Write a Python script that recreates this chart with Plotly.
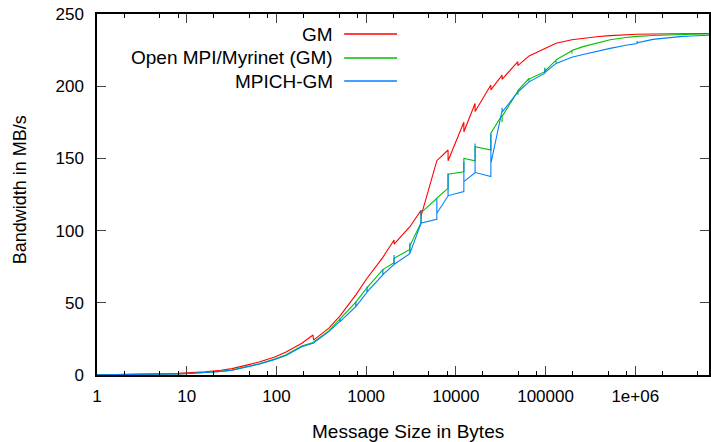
import plotly.graph_objects as go

# ---- data (message size in bytes, bandwidth in MB/s) ----
gm_sizes = [1, 2, 3, 4, 6, 8, 12, 16, 24, 32, 48, 64, 96, 128, 192, 256, 259, 384, 512, 768,
            1024, 1536, 2048, 2051, 3072, 4096, 4099, 6144, 8192, 8195, 12288, 12291,
            16384, 16387, 24576, 24579, 32768, 32771, 49152, 49155, 65536, 98304, 131072,
            196608, 262144, 393216, 524288, 786432, 1048576, 1572864, 2097152, 3145728,
            4194304, 6291456, 8388608]
gm_bw = [0.14, 0.28, 0.42, 0.56, 0.84, 1.1, 1.7, 2.2, 3.3, 4.4, 7.0, 9.0, 12.5, 16.0, 22.0,
         27.7, 24.2, 32.5, 41.0, 55.5, 67.0, 81.5, 93.5, 90.7, 102.7, 114.0, 110.2, 148.4,
         155.8, 148.4, 175.0, 168.5, 188.0, 182.5, 200.8, 197.4, 207.7, 204.8, 217.0, 214.2,
         221.0, 226.3, 229.8, 232.2, 233.2, 234.4, 235.0, 235.7, 236.0, 236.2, 236.3, 236.4,
         236.5, 236.6, 236.6]

ompi_sizes = [1, 2, 3, 4, 6, 8, 12, 16, 24, 32, 48, 64, 96, 128, 192, 256, 384, 512, 768,
              1024, 1536, 2045, 2048, 3069, 3072, 4093, 4096, 6141, 6144, 8189, 8192,
              12285, 12288, 16381, 16384, 24573, 24576, 32765, 32768, 32771, 49149, 49152,
              49155, 65533, 65536, 65539, 98301, 98304, 98307, 131069, 131072, 131075,
              196605, 196608, 196611, 262144, 393216, 524288, 786432, 1048576, 1572864,
              2097152, 3145728, 4194304, 6291456, 8388608]
ompi_bw = [0.1, 0.2, 0.3, 0.4, 0.6, 0.8, 1.2, 1.6, 2.5, 3.4, 5.8, 7.8, 11.0, 14.0, 20.0,
           22.5, 30.5, 38.5, 50.5, 60.5, 73.0, 77.8, 80.8, 87.0, 89.5, 105.5, 112.4, 122.3,
           122.5, 129.3, 139.0, 140.8, 150.0, 148.4, 158.1, 155.8, 167.4, 180.0, 175.0,
           179.0, 196.5, 194.0, 197.0, 205.5, 203.0, 205.0, 210.0, 213.0, 210.5, 218.0,
           216.0, 218.3, 224.6, 222.7, 224.8, 227.4, 230.2, 232.2, 233.7, 234.5, 235.1,
           235.5, 235.8, 236.0, 236.1, 236.2]

mpich_sizes = [1, 2, 3, 4, 6, 8, 12, 16, 24, 32, 48, 64, 96, 128, 192, 256, 384,
               509, 512, 515, 765, 768, 771, 1021, 1024, 1027, 1533, 1536, 1539,
               2045, 2048, 2051, 3069, 3072, 3075, 4093, 4096, 4099, 6141, 6144, 6147,
               8189, 8192, 8195, 12285, 12288, 12291, 16381, 16384, 16387,
               24573, 24576, 24579, 32765, 32768, 32771, 49152, 65536,
               98301, 98304, 98307, 131072, 196608, 262144, 393216, 524288, 786432,
               1048573, 1048576, 1048579, 1572864, 2097152, 3145728, 4194304, 6291456,
               8388608]
mpich_bw = [0.1, 0.2, 0.3, 0.4, 0.6, 0.8, 1.2, 1.6, 2.5, 3.3, 5.5, 7.5, 10.8, 13.5, 19.5,
            22.0, 30.0, 37.0, 39.2, 37.2, 47.3, 50.8, 47.5, 57.3, 61.2, 57.5, 69.3, 73.4,
            69.5, 76.5, 83.1, 76.7, 84.0, 91.6, 84.2, 105.0, 114.3, 105.2, 107.8, 122.3,
            112.0, 124.0, 139.5, 124.2, 127.0, 147.7, 133.9, 140.1, 160.4, 140.3, 137.5,
            167.0, 146.6, 183.0, 185.0, 182.0, 196.0, 203.0, 209.0, 212.0, 209.5, 215.8,
            220.0, 222.0, 224.6, 226.2, 228.3, 229.5, 231.3, 230.0, 232.4, 233.4, 234.3,
            234.8, 235.3, 235.5]

series_names = ["GM", "Open MPI/Myrinet (GM)", "MPICH-GM"]
series_colors = ["#ff0000", "#00c000", "#0080ff"]

x_tickvals = [1, 10, 100, 1000, 10000, 100000, 1000000]
x_ticktext = ["1", "10", "100", "1000", "10000", "100000", "1e+06"]
minor_mult = [2, 5, 8]
y_tickvals = [0, 50, 100, 150, 200, 250]

FONT = "Liberation Sans, Arial, Helvetica, sans-serif"

fig = go.Figure()
for xs, ys, name, col in [(gm_sizes, gm_bw, series_names[0], series_colors[0]),
                          (ompi_sizes, ompi_bw, series_names[1], series_colors[1]),
                          (mpich_sizes, mpich_bw, series_names[2], series_colors[2])]:
    fig.add_trace(go.Scatter(x=xs, y=ys, mode="lines", name=name,
                             line=dict(color=col, width=1.1), showlegend=False))

minor_vals = [m * 10 ** k for k in range(0, 7) for m in minor_mult]

fig.update_layout(
    width=711, height=442,
    margin=dict(l=97, r=0, t=14, b=67),
    paper_bgcolor="white", plot_bgcolor="white",
    font=dict(family=FONT, size=17, color="black"),
    xaxis=dict(type="log", range=[0, 6.822], showgrid=False, zeroline=False,
               showline=True, linecolor="black", linewidth=1.5, mirror="ticks",
               ticks="inside", ticklen=9, tickwidth=1, tickcolor="#444",
               tickvals=x_tickvals, ticktext=x_ticktext, ticklabelstandoff=5,
               minor=dict(tickvals=minor_vals, ticks="inside", ticklen=4,
                          tickcolor="black", tickwidth=1, showgrid=False)),
    yaxis=dict(range=[0, 250], showgrid=False, zeroline=False,
               showline=True, linecolor="black", linewidth=1.5, mirror="ticks",
               ticks="inside", ticklen=9, tickwidth=1, tickcolor="#444",
               tickvals=y_tickvals, ticklabelstandoff=8),
)

# axis titles
fig.add_annotation(text="Message Size in Bytes", xref="paper", yref="paper",
                   x=(409 - 97) / 614, y=(375 - 431) / 361, xanchor="center",
                   yanchor="middle", showarrow=False, font=dict(size=19))
fig.add_annotation(text="Bandwidth in MB/s", xref="paper", yref="paper",
                   x=(20 - 97) / 614, y=(375 - 190) / 361, textangle=-90, xanchor="center",
                   yanchor="middle", showarrow=False, font=dict(size=18))

# legend (text right-aligned, line sample on the right)
leg_y = [34, 58, 81]
for name, col, py in zip(series_names, series_colors, leg_y):
    yp = (375 - py) / 361
    fig.add_annotation(text=name, xref="paper", yref="paper",
                       x=(336 - 97) / 614, y=yp, xanchor="right", yanchor="middle",
                       showarrow=False, font=dict(size=19))
    fig.add_shape(type="line", xref="paper", yref="paper",
                  x0=(345 - 97) / 614, x1=(398 - 97) / 614, y0=yp, y1=yp,
                  line=dict(color=col, width=1.5))

fig.write_html("out.html")
